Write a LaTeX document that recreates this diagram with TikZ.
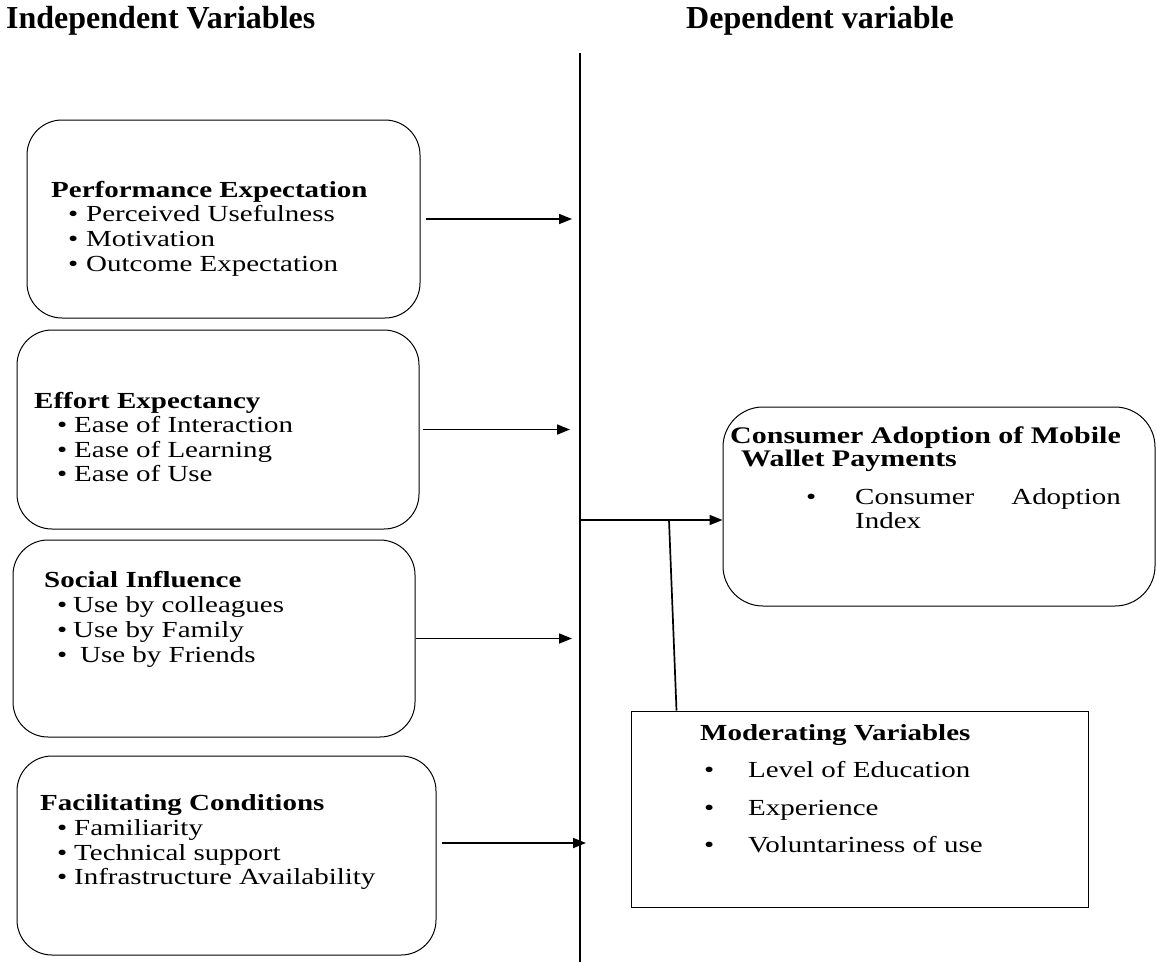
\documentclass[tikz,border=0pt]{standalone}
\usepackage{fontspec}
\setmainfont{Liberation Serif}
\newfontfamily\bodyfont[FakeStretch=1.26]{Liberation Serif}
\usetikzlibrary{arrows.meta}
\newcommand{\bl}[2]{\makebox[#1][l]{•}#2}
\begin{document}
\begin{tikzpicture}[x=1pt,y=-1pt,
  rbox/.style={draw, line width=1pt, rounded corners=35pt, inner sep=0pt},
  sbox/.style={draw, line width=1pt, inner sep=0pt},
  conn/.style={line width=1.7pt},
  arr/.style={conn, -{Triangle[length=13pt,width=10pt]}},
  txt/.style={anchor=base west, inner sep=0pt, font={\bodyfont\fontsize{23}{25}\selectfont}},
  ttl/.style={anchor=base west, inner sep=0pt, font={\bodyfont\bfseries\fontsize{23}{25}\selectfont}},
  hdr/.style={anchor=base west, inner sep=0pt, font={\bfseries\fontsize{32}{36}\selectfont}},
]
\useasboundingbox (0,0) rectangle (1157,962);

% headers
\node[hdr] (h1) at (6,28) {Independent Variables};
\node[hdr] (h2) at (686,28) {Dependent variable};

% vertical divider
\coordinate (vt) at (580,53);
\coordinate (vb) at (580,962);
\draw[line width=2pt] (vt) -- (vb);

% boxes
\node[rbox, minimum width=393pt, minimum height=198pt] (b1) at (223.5,219) {};
\node[rbox, minimum width=402pt, minimum height=199pt] (b2) at (218,429.5) {};
\node[rbox, minimum width=402pt, minimum height=197pt] (b3) at (214,638.5) {};
\node[rbox, minimum width=419pt, minimum height=199pt] (b4) at (226.5,855.5) {};
\node[rbox, rounded corners=40pt, minimum width=432pt, minimum height=199pt] (b5) at (939,506.5) {};
\node[sbox, minimum width=457pt, minimum height=196pt] (b6) at (859.5,809) {};

% box 1 text
\node[ttl] (t1) at (51,197) {Performance Expectation};
\node[txt] (t1a) at (68,221) {\bl{18pt}{Perceived Usefulness}};
\node[txt] (t1b) at (68,246) {\bl{18pt}{Motivation}};
\node[txt] (t1c) at (68,271) {\bl{18pt}{Outcome Expectation}};

% box 2 text
\node[ttl] (t2) at (34,408) {Effort Expectancy};
\node[txt] (t2a) at (57,432) {\bl{17pt}{Ease of Interaction}};
\node[txt] (t2b) at (57,457) {\bl{17pt}{Ease of Learning}};
\node[txt] (t2c) at (57,481) {\bl{17pt}{Ease of Use}};

% box 3 text
\node[ttl] (t3) at (44,587) {Social Influence};
\node[txt] (t3a) at (57,612) {\bl{16pt}{Use by colleagues}};
\node[txt] (t3b) at (57,637) {\bl{16pt}{Use by Family}};
\node[txt] (t3c) at (57,662) {\bl{23pt}{Use by Friends}};

% box 4 text
\node[ttl] (t4) at (40,810) {Facilitating Conditions};
\node[txt] (t4a) at (57,835) {\bl{17pt}{Familiarity}};
\node[txt] (t4b) at (57,860) {\bl{17pt}{Technical support}};
\node[txt] (t4c) at (57,884) {\bl{17pt}{Infrastructure Availability}};

% box 5 text
\node[ttl, font={\bodyfont\bfseries\fontsize{23.8}{25}\selectfont}] (t5) at (730,443) {Consumer Adoption of Mobile};
\node[ttl, font={\bodyfont\bfseries\fontsize{23.8}{25}\selectfont}] (t5b) at (741,466) {Wallet Payments};
\node[txt] (t5c) at (806,504) {•};
\node[txt] (t5d) at (855,504) {Consumer};
\node[txt, anchor=base east] (t5e) at (1121,504) {Adoption};
\node[txt] (t5f) at (855,528) {Index};

% box 6 text
\node[ttl] (t6) at (700,740) {Moderating Variables};
\node[txt] (t6a) at (704,777) {\bl{44pt}{Level of Education}};
\node[txt] (t6b) at (704,815) {\bl{44pt}{Experience}};
\node[txt] (t6c) at (704,852) {\bl{44pt}{Voluntariness of use}};

% connectors
\coordinate (e1) at (572,219);
\coordinate (e2) at (570,429.5);
\coordinate (e3) at (572,638.5);
\coordinate (e4) at (586,843);
\coordinate (j) at (580,520);
\coordinate (m1) at (669,520);
\draw[arr] ([xshift=5pt]b1.east) -- (e1);
\draw[arr] ([xshift=3pt]b2.east) -- (e2);
\draw[arr] (b3.east) -- (e3);
\draw[arr] ([shift={(5,-12.5)}]b4.east) -- (e4);
\draw[arr] (j) -- (j -| b5.west);
\draw[conn] (m1) -- ([xshift=46pt]b6.north west);
\end{tikzpicture}
\end{document}
